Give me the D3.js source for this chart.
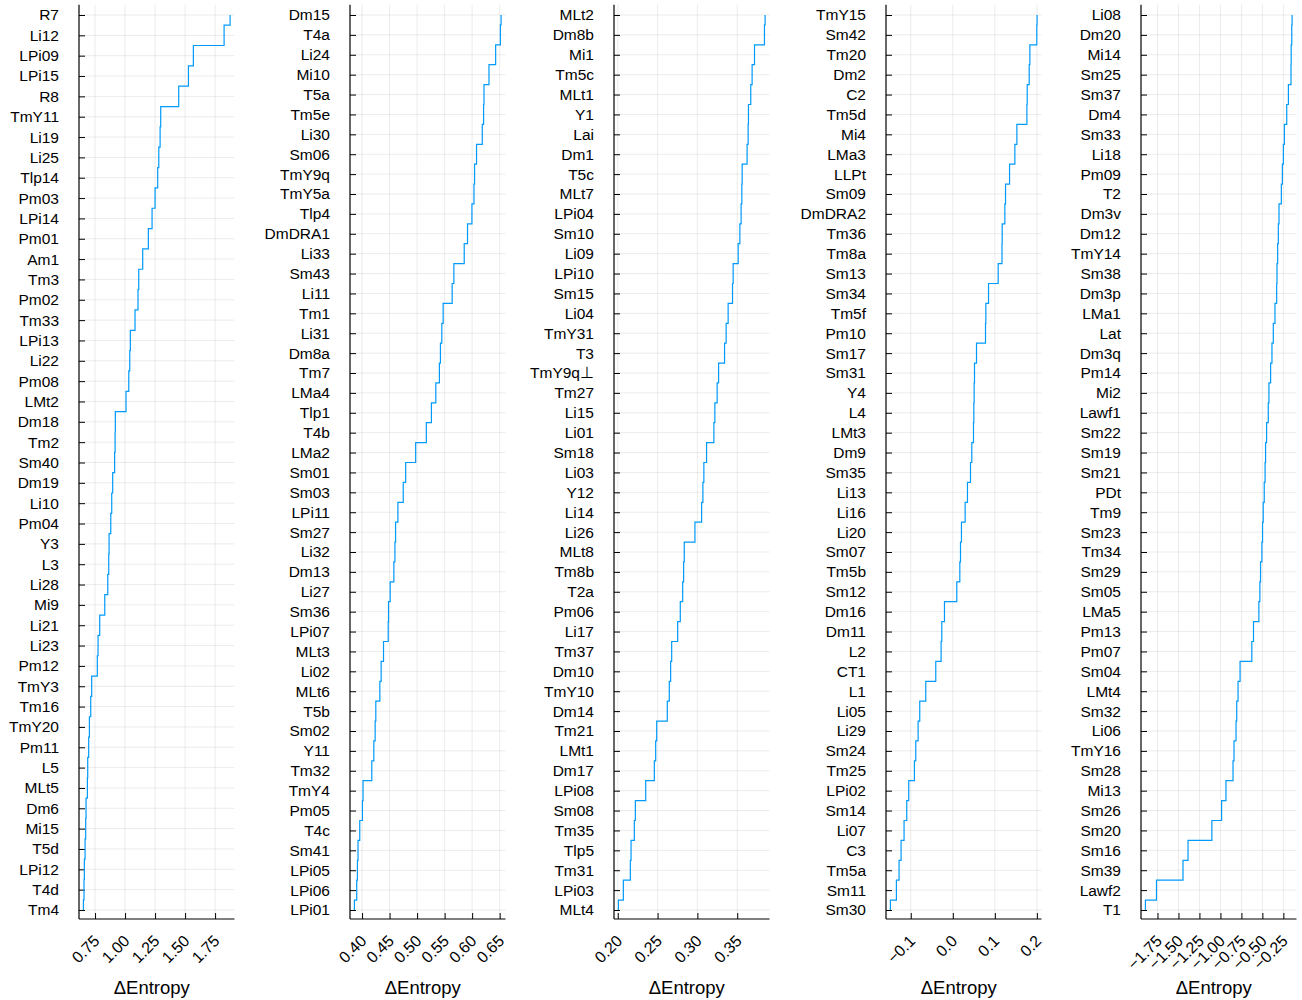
<!DOCTYPE html>
<html>
<head>
<meta charset="utf-8">
<script src="https://cdn.jsdelivr.net/npm/d3@7"></script>
<style>
  html, body { margin: 0; padding: 0; background: #fff; }
  svg { display: block; font-family: "Liberation Sans", Arial, Helvetica, sans-serif; }
</style>
</head>
<body>
<svg id="chart" width="1302" height="1000"></svg>
<script>
// Cell types per panel, listed top to bottom, with their entropy change.
const panel1Labels = ["R7","Li12","LPi09","LPi15","R8","TmY11","Li19","Li25","Tlp14","Pm03","LPi14","Pm01","Am1","Tm3","Pm02","Tm33","LPi13","Li22","Pm08","LMt2","Dm18","Tm2","Sm40","Dm19","Li10","Pm04","Y3","L3","Li28","Mi9","Li21","Li23","Pm12","TmY3","Tm16","TmY20","Pm11","L5","MLt5","Dm6","Mi15","T5d","LPi12","T4d","Tm4"];
const panel1Values = [1.875,1.825,1.569,1.528,1.447,1.297,1.292,1.281,1.272,1.250,1.225,1.194,1.147,1.114,1.108,1.083,1.044,1.039,1.031,1.008,0.919,0.917,0.913,0.897,0.889,0.881,0.867,0.864,0.856,0.831,0.789,0.775,0.769,0.722,0.714,0.703,0.697,0.689,0.686,0.675,0.672,0.667,0.661,0.658,0.653];

const panel2Labels = ["Dm15","T4a","Li24","Mi10","T5a","Tm5e","Li30","Sm06","TmY9q","TmY5a","Tlp4","DmDRA1","Li33","Sm43","Li11","Tm1","Li31","Dm8a","Tm7","LMa4","Tlp1","T4b","LMa2","Sm01","Sm03","LPi11","Sm27","Li32","Dm13","Li27","Sm36","LPi07","MLt3","Li02","MLt6","T5b","Sm02","Y11","Tm32","TmY4","Pm05","T4c","Sm41","LPi05","LPi06","LPi01"];
const panel2Values = [0.6526,0.6513,0.6427,0.6306,0.6215,0.6208,0.6184,0.6080,0.6044,0.6033,0.5996,0.5916,0.5856,0.5668,0.5637,0.5473,0.5449,0.5424,0.5405,0.5340,0.5260,0.5168,0.4974,0.4792,0.4748,0.4651,0.4609,0.4597,0.4578,0.4511,0.4481,0.4475,0.4390,0.4347,0.4323,0.4250,0.4238,0.4214,0.4177,0.4018,0.4007,0.3958,0.3927,0.3916,0.3903,0.3861];

const panel3Labels = ["MLt2","Dm8b","Mi1","Tm5c","MLt1","Y1","Lai","Dm1","T5c","MLt7","LPi04","Sm10","Li09","LPi10","Sm15","Li04","TmY31","T3","TmY9q⊥","Tm27","Li15","Li01","Sm18","Li03","Y12","Li14","Li26","MLt8","Tm8b","T2a","Pm06","Li17","Tm37","Dm10","TmY10","Dm14","Tm21","LMt1","Dm17","LPi08","Sm08","Tm35","Tlp5","Tm31","LPi03","MLt4"];
const panel3Values = [0.3850,0.3842,0.3717,0.3687,0.3670,0.3641,0.3637,0.3624,0.3562,0.3558,0.3549,0.3533,0.3512,0.3449,0.3441,0.3386,0.3361,0.3341,0.3266,0.3248,0.3219,0.3207,0.3115,0.3081,0.3069,0.3053,0.2969,0.2835,0.2827,0.2815,0.2785,0.2752,0.2677,0.2664,0.2647,0.2622,0.2489,0.2476,0.2459,0.2351,0.2221,0.2208,0.2167,0.2158,0.2070,0.2008];

const panel4Labels = ["TmY15","Sm42","Tm20","Dm2","C2","Tm5d","Mi4","LMa3","LLPt","Sm09","DmDRA2","Tm36","Tm8a","Sm13","Sm34","Tm5f","Pm10","Sm17","Sm31","Y4","L4","LMt3","Dm9","Sm35","Li13","Li16","Li20","Sm07","Tm5b","Sm12","Dm16","Dm11","L2","CT1","L1","Li05","Li29","Sm24","Tm25","LPi02","Sm14","Li07","C3","Tm5a","Sm11","Sm30"];
const panel4Values = [0.2005,0.1998,0.1833,0.1817,0.1770,0.1762,0.1524,0.1476,0.1350,0.1254,0.1238,0.1175,0.1170,0.1079,0.0850,0.0786,0.0778,0.0564,0.0516,0.0508,0.0500,0.0492,0.0452,0.0421,0.0349,0.0294,0.0206,0.0183,0.0167,0.0095,-0.0198,-0.0262,-0.0278,-0.0405,-0.0643,-0.0786,-0.0825,-0.0881,-0.0913,-0.1048,-0.1095,-0.1159,-0.1230,-0.1278,-0.1341,-0.1484];

const panel5Labels = ["Li08","Dm20","Mi14","Sm25","Sm37","Dm4","Sm33","Li18","Pm09","T2","Dm3v","Dm12","TmY14","Sm38","Dm3p","LMa1","Lat","Dm3q","Pm14","Mi2","Lawf1","Sm22","Sm19","Sm21","PDt","Tm9","Sm23","Tm34","Sm29","Sm05","LMa5","Pm13","Pm07","Sm04","LMt4","Sm32","Li06","TmY16","Sm28","Mi13","Sm26","Sm20","Sm16","Sm39","Lawf2","T1"];
const panel5Values = [-0.146,-0.150,-0.157,-0.159,-0.190,-0.210,-0.238,-0.250,-0.262,-0.274,-0.302,-0.310,-0.318,-0.326,-0.330,-0.350,-0.370,-0.386,-0.402,-0.422,-0.430,-0.450,-0.462,-0.468,-0.478,-0.490,-0.498,-0.506,-0.522,-0.530,-0.542,-0.606,-0.626,-0.766,-0.790,-0.806,-0.814,-0.838,-0.850,-0.934,-0.986,-1.102,-1.386,-1.446,-1.762,-1.894];

// Axis ticks for each panel.
const panel1Ticks = [0.75, 1.00, 1.25, 1.50, 1.75];
const panel1TickLabels = ["0.75","1.00","1.25","1.50","1.75"];
const panel2Ticks = [0.40, 0.45, 0.50, 0.55, 0.60, 0.65];
const panel2TickLabels = ["0.40","0.45","0.50","0.55","0.60","0.65"];
const panel3Ticks = [0.20, 0.25, 0.30, 0.35];
const panel3TickLabels = ["0.20","0.25","0.30","0.35"];
const panel4Ticks = [-0.1, 0.0, 0.1, 0.2];
const panel4TickLabels = ["\u22120.1","0.0","0.1","0.2"];
const panel5Ticks = [-1.75, -1.50, -1.25, -1.00, -0.75, -0.50, -0.25];
const panel5TickLabels = ["\u22121.75","\u22121.50","\u22121.25","\u22121.00","\u22120.75","\u22120.50","\u22120.25"];

const xTitle = "\u0394Entropy";

const panels = [
  { labels: panel1Labels, values: panel1Values, ticks: panel1Ticks, tickLabels: panel1TickLabels },
  { labels: panel2Labels, values: panel2Values, ticks: panel2Ticks, tickLabels: panel2TickLabels },
  { labels: panel3Labels, values: panel3Values, ticks: panel3Ticks, tickLabels: panel3TickLabels },
  { labels: panel4Labels, values: panel4Values, ticks: panel4Ticks, tickLabels: panel4TickLabels },
  { labels: panel5Labels, values: panel5Values, ticks: panel5Ticks, tickLabels: panel5TickLabels }
];

// Layout of the five plot areas.
const plotLeft = [79, 350, 614, 886, 1141];
const plotWidth = 155.5;
const plotTop = 4.7, plotBottom = 919;
const firstTickY = 910, lastTickY = 15;
const lineColor = "#009AFA";
const gridColor = "rgba(0,0,0,0.1)";
const tickFont = 15.5;

const svg = d3.select("#chart");

panels.forEach((p, k) => {
  const n = p.labels.length;
  const x0 = plotLeft[k], x1 = x0 + plotWidth;

  // x extent padded by 3% on each side
  const [lo, hi] = d3.extent(p.values);
  const pad = 0.03 * (hi - lo);
  const x = d3.scaleLinear().domain([lo - pad, hi + pad]).range([x0, x1]);

  // row 1 is the bottom label, row n the top one
  const y = d3.scaleLinear().domain([1, n]).range([firstTickY, lastTickY]);
  const rows = p.labels.map((lab, i) => ({ label: lab, value: p.values[i], row: n - i }))
                       .sort((a, b) => a.row - b.row);

  const g = svg.append("g");

  // grid
  g.append("g").selectAll("line").data(rows).join("line")
    .attr("x1", x0).attr("x2", x1)
    .attr("y1", d => y(d.row)).attr("y2", d => y(d.row))
    .attr("stroke", gridColor).attr("stroke-width", 0.8);
  g.append("g").selectAll("line").data(p.ticks).join("line")
    .attr("x1", d => x(d)).attr("x2", d => x(d))
    .attr("y1", plotTop).attr("y2", plotBottom)
    .attr("stroke", gridColor).attr("stroke-width", 0.8);

  // y axis: category labels with inward ticks
  const yAxis = d3.axisLeft(y)
    .tickValues(rows.map(d => d.row))
    .tickFormat(r => p.labels[n - r])
    .tickSizeInner(-6).tickSizeOuter(0).tickPadding(20);
  const gy = g.append("g").attr("transform", `translate(${x0},0)`).call(yAxis);
  gy.select(".domain").remove();
  gy.selectAll(".tick line").attr("stroke", "#000").attr("stroke-width", 1);
  gy.selectAll(".tick text")
    .attr("fill", "#000")
    .style("font-size", tickFont + "px")
    .style("font-family", "'Liberation Sans', Arial, Helvetica, sans-serif");

  // x axis: rotated numeric labels with inward ticks
  const xAxis = d3.axisBottom(x)
    .tickValues(p.ticks)
    .tickFormat((d, i) => p.tickLabels[i])
    .tickSizeInner(-6).tickSizeOuter(0);
  const gx = g.append("g").attr("transform", `translate(0,${plotBottom})`).call(xAxis);
  gx.select(".domain").remove();
  gx.selectAll(".tick line").attr("stroke", "#000").attr("stroke-width", 1);
  gx.selectAll(".tick text")
    .attr("x", 0).attr("y", 0).attr("dy", 0)
    .attr("text-anchor", "end")
    .attr("transform", "translate(5,23) rotate(-45)")
    .attr("fill", "#000")
    .style("font-size", "16px")
    .style("font-family", "'Liberation Sans', Arial, Helvetica, sans-serif");

  // spines (left and bottom only)
  g.append("line").attr("x1", x0).attr("x2", x0).attr("y1", plotTop).attr("y2", plotBottom)
    .attr("stroke", "#000").attr("stroke-width", 1.2);
  g.append("line").attr("x1", x0).attr("x2", x1).attr("y1", plotBottom).attr("y2", plotBottom)
    .attr("stroke", "#000").attr("stroke-width", 1.2);

  // step line: each value holds between the midpoints to its neighbours
  const pts = [];
  rows.forEach((d, i) => {
    const yStart = i === 0 ? y(d.row) : y(d.row - 0.5);
    const yEnd = i === rows.length - 1 ? y(d.row) : y(d.row + 0.5);
    pts.push([x(d.value), yStart], [x(d.value), yEnd]);
  });
  g.append("path")
    .attr("d", d3.line()(pts))
    .attr("fill", "none")
    .attr("stroke", lineColor)
    .attr("stroke-width", 1.2);

  // axis title
  g.append("text")
    .attr("x", (x0 + x1) / 2 - 5)
    .attr("y", 994)
    .attr("text-anchor", "middle")
    .style("font-size", "18.5px")
    .attr("fill", "#000")
    .text(xTitle);
});
</script>
</body>
</html>
